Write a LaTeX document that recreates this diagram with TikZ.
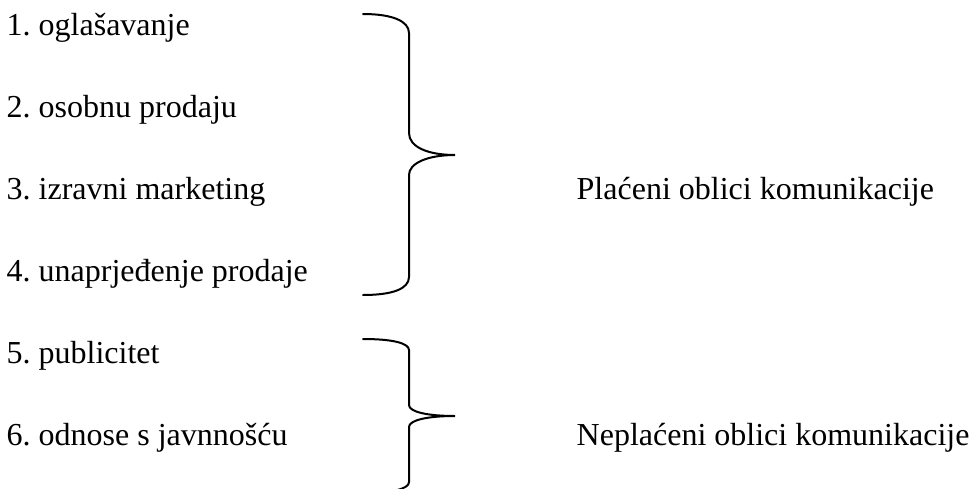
\documentclass[tikz,border=0pt]{standalone}
\usepackage{fontspec}
\setmainfont{Liberation Serif}
\frenchspacing

\begin{document}
\begin{tikzpicture}[x=1pt, y=-1pt]
        \tikzset{
            item/.style={anchor=base west, inner sep=0pt, font=\fontsize{32}{38}\selectfont},
            bracket/.style={line width=2pt, line cap=round}
        }
        \useasboundingbox (0, 0) rectangle (972, 488);
        \clip (0, 0) rectangle (972, 488);

        \coordinate (PT) at (363, 14); % Top end of the first brace
        \coordinate (PTv) at (409, 33); % Where it turns vertical
        \coordinate (PMa) at (409, 133);
        \coordinate (PM) at (455, 155); % Tip of the first brace
        \coordinate (PMb) at (409, 175);
        \coordinate (PBv) at (409, 277);
        \coordinate (PB) at (363, 295); % Bottom end
        \coordinate (NT) at (363, 339); % Top end of the second brace
        \coordinate (NTv) at (409, 350);
        \coordinate (NMa) at (409, 405);
        \coordinate (NM) at (455, 416); % Tip of the second brace
        \coordinate (NMb) at (409, 427);
        \coordinate (NBv) at (409, 482);
        \coordinate (NB) at (363, 493); % Bottom end, cut by the page

        \node[item] (adv) at (6.5, 35) {1. oglašavanje};
        \node[item] (sales) at (6.5, 117) {2. osobnu prodaju};
        \node[item] (direct) at (6.5, 199) {3. izravni marketing};
        \node[item] (promo) at (6.5, 281) {4. unaprjeđenje prodaje};
        \node[item] (pub) at (6.5, 363) {5. publicitet};
        \node[item] (pr) at (6.5, 445) {6. odnose s javnnošću};

        \node[item] (paid) at (576.5, 199) {Plaćeni oblici komunikacije};
        \node[item] (unpaid) at (576.5, 445) {Neplaćeni oblici komunikacije};

        \draw[bracket] (PT) .. controls (392, 14) and (409, 21) .. (PTv) -- (PMa)
            .. controls (409, 147) and (428, 155) .. (PM)
            .. controls (428, 155) and (409, 163) .. (PMb) -- (PBv)
            .. controls (409, 289) and (392, 295) .. (PB);
        \draw[bracket] (NT) .. controls (392, 339) and (409, 343) .. (NTv) -- (NMa)
            .. controls (409, 412) and (428, 416) .. (NM)
            .. controls (428, 416) and (409, 420) .. (NMb) -- (NBv)
            .. controls (409, 489) and (392, 493) .. (NB);

    \end{tikzpicture}
\end{document}
